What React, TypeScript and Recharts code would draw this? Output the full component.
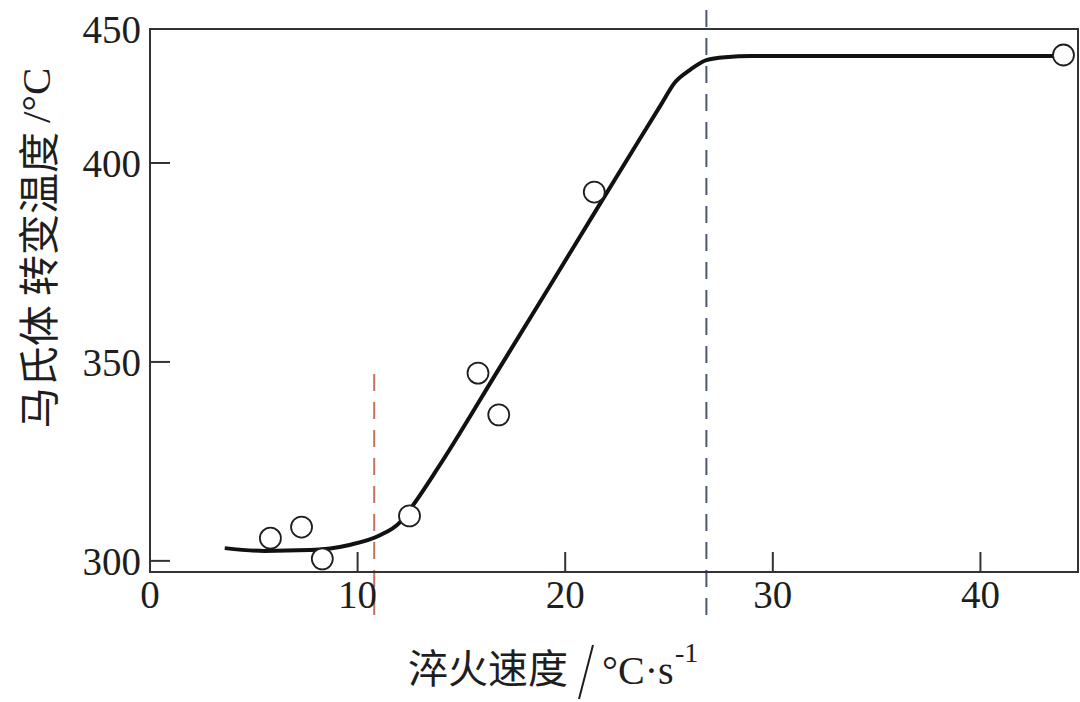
import {
  ComposedChart,
  XAxis,
  YAxis,
  Line,
  Scatter,
  ReferenceLine,
  ReferenceArea,
} from 'recharts';

const xTicks = [0, 10, 20, 30, 40];
const yTicks = [300, 350, 400, 450];

// measured points: quench rate (°C/s) vs Ms temperature (°C)
const rate = [5.8, 7.3, 8.3, 12.5, 15.8, 16.8, 21.4, 44.0];
const msTemp = [305.7, 308.5, 300.5, 311.3, 347.2, 336.7, 392.7, 440.3];

// fitted curve
const curveRate = [3.6, 5.5, 7.7, 9.6, 11.1, 12.0, 12.6, 13.9, 16.8, 19.2, 21.6, 23.2, 24.6, 25.3, 26.0, 26.8, 27.7, 29.0, 44.0];
const curveTemp = [303.2, 302.5, 302.7, 304.0, 306.5, 309.5, 313.5, 323.6, 348.2, 368.6, 389.1, 404.0, 421.6, 430.2, 434.7, 438.4, 439.5, 439.9, 439.9];

// critical rates marked with dashed lines
const lowerRate = 10.8;
const upperRate = 26.8;

const points = rate.map((x, i) => ({ x, y: msTemp[i] }));
const curve = curveRate.map((x, i) => ({ x, y: curveTemp[i] }));

const serif = '"Liberation Serif", "DejaVu Serif", serif';
const cjk = '"Noto Sans CJK SC", sans-serif';
const ink = '#1e1e1e';

// the original y axis is squeezed above 400, so use a two-piece linear scale
function makeScale(knot: number, knotFrac: number): any {
  let dom = [0, 1];
  let rng = [0, 1];
  const frac = (v: number) => {
    const [lo, hi] = dom;
    if (v <= knot) return ((v - lo) / (knot - lo)) * knotFrac;
    return knotFrac + ((v - knot) / (hi - knot)) * (1 - knotFrac);
  };
  const s: any = (v: number) => rng[0] + frac(Number(v)) * (rng[1] - rng[0]);
  s.domain = (d?: any[]) => {
    if (d === undefined) return dom;
    dom = [Number(d[0]), Number(d[d.length - 1])];
    return s;
  };
  s.range = (r?: number[]) => {
    if (r === undefined) return rng;
    rng = [r[0], r[r.length - 1]];
    return s;
  };
  s.copy = () => makeScale(knot, knotFrac).domain(dom).range(rng);
  s.ticks = () => yTicks;
  s.invert = (px: number) => {
    const t = (px - rng[0]) / (rng[1] - rng[0]);
    const [lo, hi] = dom;
    if (t <= knotFrac) return lo + (t / knotFrac) * (knot - lo);
    return knot + ((t - knotFrac) / (1 - knotFrac)) * (hi - knot);
  };
  return s;
}

const yScale = makeScale(400, 0.7532);

const Circle = (p: any) => (
  <circle cx={p.cx} cy={p.cy} r={10.5} fill="#fff" stroke={ink} strokeWidth={1.8} />
);

const XTitle = () => (
  <g>
    <text x={408} y={683} fontFamily={cjk} fontSize={40} fill={ink}>淬火速度</text>
    <line x1={593} y1={645} x2={579} y2={699} stroke={ink} strokeWidth={2} />
    <text x={602} y={684} fontFamily={serif} fontSize={40} fill={ink}>°C·s</text>
    <text x={675} y={662} fontFamily={serif} fontSize={28} fill={ink}>-1</text>
  </g>
);

const YTitle = () => (
  <text
    transform="translate(36,248) rotate(-90)"
    textAnchor="middle"
    dominantBaseline="central"
    fontSize={41}
    fill={ink}
  >
    <tspan fontFamily={cjk}>马氏体 转变温度 </tspan>
    <tspan fontFamily={serif}>/°C</tspan>
  </text>
);

export default function App() {
  return (
    <div style={{ position: 'absolute', left: 0, top: 0, background: '#fff' }}>
      <ComposedChart width={1080} height={702} margin={{ top: 29, right: 2, bottom: 0, left: 0 }}>
        <XAxis
          type="number"
          dataKey="x"
          domain={[0, 44.7]}
          ticks={xTicks}
          height={130}
          tickSize={-20}
          tickMargin={28}
          tick={{ fontFamily: serif, fontSize: 39, fill: ink }}
          axisLine={{ stroke: '#333', strokeWidth: 2 }}
          tickLine={{ stroke: '#333', strokeWidth: 2 }}
          label={{ content: () => <XTitle /> }}
        />
        <YAxis
          type="number"
          dataKey="y"
          scale={yScale}
          domain={[297.2, 450]}
          ticks={yTicks}
          width={150}
          tickSize={-20}
          tickMargin={29}
          tick={{ fontFamily: serif, fontSize: 39, fill: ink }}
          axisLine={{ stroke: '#333', strokeWidth: 2 }}
          tickLine={{ stroke: '#333', strokeWidth: 2 }}
          label={{ content: () => <YTitle /> }}
        />
        <ReferenceArea
          x1={0}
          x2={44.7}
          y1={297.2}
          y2={450}
          fill="none"
          stroke="#333"
          strokeWidth={2}
          fillOpacity={0}
          ifOverflow="visible"
        />
        <ReferenceLine
          segment={[{ x: lowerRate, y: 286.4 }, { x: lowerRate, y: 347.7 }]}
          stroke="#c5735c"
          strokeWidth={2}
          strokeDasharray="17 11"
          ifOverflow="visible"
        />
        <ReferenceLine
          segment={[{ x: upperRate, y: 286.4 }, { x: upperRate, y: 457.1 }]}
          stroke="#4c5675"
          strokeWidth={2}
          strokeDasharray="17 11"
          ifOverflow="visible"
        />
        <Line
          data={curve}
          dataKey="y"
          type="monotone"
          stroke="#111"
          strokeWidth={4}
          dot={false}
          activeDot={false}
          isAnimationActive={false}
        />
        <Scatter data={points} dataKey="y" shape={Circle} isAnimationActive={false} />
      </ComposedChart>
    </div>
  );
}
